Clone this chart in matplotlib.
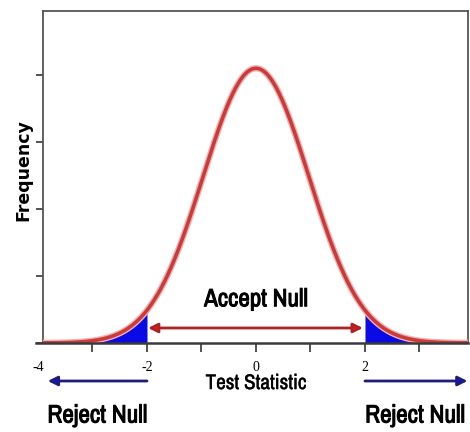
#!/usr/bin/python

import numpy as np
import matplotlib
matplotlib.use('Agg')
import matplotlib.pyplot as plt
from matplotlib import font_manager
from matplotlib.font_manager import FontProperties
import matplotlib.patheffects as pe

# distribution
mean = 0.0
sd = 0.97
peak = 0.41
crit = 2.0

x_minor = [-3, -2, -1, 0, 1, 2, 3]
x_labels = [-4, -2, 0, 2, 4]
y_ticks = [0.0, 0.1, 0.2, 0.3, 0.4]

# look for a narrow regular face, else plain Liberation Sans
def is_narrow(f):
    return 'Narrow' in f.name or 'Condensed' in f.name

def wt(f):
    w = f.weight
    if isinstance(w, str):
        w = {'bold': 700, 'normal': 400, 'regular': 400}.get(w, 400)
    return w

flist = font_manager.fontManager.ttflist
nar = [f for f in flist if is_narrow(f) and f.style == 'normal']
nar_reg = sorted([f for f in nar if 400 <= wt(f) < 600],
                 key=lambda f: (abs(wt(f) - 400), f.name))
if nar_reg:
    fp_reg = FontProperties(fname=nar_reg[0].fname)
else:
    fp_reg = FontProperties(family='Liberation Sans')

xs = np.linspace(-4, 4, 801)
ys = peak * np.exp(-0.5 * ((xs - mean) / sd) ** 2)

fig = plt.figure(figsize=(4.70, 4.32), dpi=100)
ax = fig.add_axes([43/470, 89/432, 425/470, 332/432])
ax.set_xlim(-3.908, 3.89)
ax.set_ylim(0, 0.4955)

# blue tails
left = xs <= -crit
right = xs >= crit
ax.fill_between(xs[left], 0, ys[left], color='#0a0ae6', lw=0, zorder=2)
ax.fill_between(xs[right], 0, ys[right], color='#0a0ae6', lw=0, zorder=2)

# curve with soft halo
ax.plot(xs, ys, color='#eeb4b4', lw=4.6, solid_capstyle='round', zorder=3)
ax.plot(xs, ys, color='#cc3a3a', lw=2.6, solid_capstyle='round', zorder=4)

# axis line reaching past the left spine
ax.plot([-4.04, 3.89], [0, 0], color='#3a3a3a', lw=1.8, clip_on=False, zorder=5)

ax.spines['bottom'].set_visible(False)
for s in ['left', 'top', 'right']:
    ax.spines[s].set_color('#555555')
    ax.spines[s].set_linewidth(1.3)

ax.set_yticks(y_ticks)
ax.set_yticklabels([])
ax.tick_params(axis='y', direction='out', length=5, width=1.3, color='#444444')
ax.set_xticks(x_minor)
ax.set_xticklabels([])
ax.tick_params(axis='x', direction='out', length=6.5, width=1.3, color='#444444')

for v in x_labels:
    ax.text(v, -0.037, '%d' % v, ha='center', va='center', fontsize=10,
            family='Liberation Serif', clip_on=False)

renderer = fig.canvas.get_renderer()

def fit_text(x, y, s, width_px, size, stroke):
    t = ax.text(x, y, s, ha='center', va='center', fontproperties=fp_reg.copy(),
                clip_on=False, color='black')
    t.set_fontsize(size)
    w = t.get_window_extent(renderer).width
    t.set_fontsize(size * (width_px - stroke * 1.4) / w)
    if stroke:
        t.set_path_effects([pe.withStroke(linewidth=stroke, foreground='black')])
    return t

fit_text(0, -0.0605, 'Test Statistic', 101, 12, 0.25)
fit_text(0, 0.066, 'Accept Null', 105, 15, 0.7)
fit_text(-2.91, -0.1075, 'Reject Null', 101, 15, 0.7)
fit_text(2.92, -0.1075, 'Reject Null', 101, 15, 0.7)

fig.text(23/470, 1 - 170/432, 'Frequency', rotation=90, ha='center', va='center',
         fontsize=12.5, weight='bold', family='DejaVu Sans')

# accept region arrow
ax.annotate('', xy=(-crit + 0.02, 0.0224), xytext=(crit - 0.04, 0.0224),
            arrowprops=dict(arrowstyle='<|-|>', color='#b02020', lw=2.0,
                            mutation_scale=14, shrinkA=0, shrinkB=0,
                            fc='#e02020'))
# reject arrows
ax.annotate('', xy=(-3.82, -0.0567), xytext=(-crit, -0.0567),
            annotation_clip=False,
            arrowprops=dict(arrowstyle='-|>', color='#1c1c80', lw=2.0,
                            mutation_scale=14, shrinkA=0, shrinkB=0,
                            fc='#1010e0'))
ax.annotate('', xy=(3.88, -0.0567), xytext=(crit, -0.0567),
            annotation_clip=False,
            arrowprops=dict(arrowstyle='-|>', color='#1c1c80', lw=2.0,
                            mutation_scale=14, shrinkA=0, shrinkB=0,
                            fc='#1010e0'))

fig.savefig('out.png', dpi=100)
